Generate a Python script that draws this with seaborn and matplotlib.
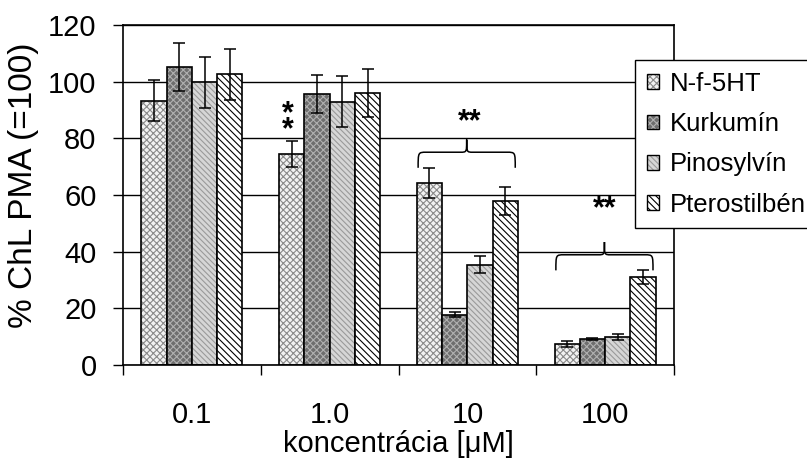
import numpy as np
import pandas as pd
import matplotlib
matplotlib.use("Agg")
import matplotlib.pyplot as plt
import matplotlib.colors as mcolors
from matplotlib.path import Path
from matplotlib.patches import PathPatch, Patch
import seaborn as sns

# ---------------- data ----------------
concentrations = ['0.1', '1.0', '10', '100']
compounds = ['N-f-5HT', 'Kurkumín', 'Pinosylvín', 'Pterostilbén']
nf5ht = [93.3, 74.4, 64.3, 7.4]
kurkumin = [105.3, 95.8, 17.8, 9.2]
pinosylvin = [99.8, 93.0, 35.4, 9.9]
pterostilben = [102.7, 96.0, 58.0, 31.0]
nf5ht_err = [7.2, 4.5, 5.3, 1.2]
kurkumin_err = [8.5, 6.7, 0.9, 0.4]
pinosylvin_err = [9.0, 9.0, 3.0, 1.0]
pterostilben_err = [9.0, 8.5, 5.0, 2.4]
yticks = [0, 20, 40, 60, 80, 100, 120]
xlabel = 'koncentrácia [μM]'
ylabel = '% ChL PMA (=100)'

values = [nf5ht, kurkumin, pinosylvin, pterostilben]
errors = [nf5ht_err, kurkumin_err, pinosylvin_err, pterostilben_err]

df = pd.DataFrame({
    'conc': np.tile(concentrations, len(compounds)),
    'compound': np.repeat(compounds, len(concentrations)),
    'value': np.concatenate(values),
})

# ---------------- style ----------------
sns.set_style('white')
plt.rcParams['font.family'] = ['Liberation Sans', 'DejaVu Sans']
plt.rcParams['hatch.linewidth'] = 0.8
plt.rcParams['axes.unicode_minus'] = False
plt.rcParams['text.color'] = 'black'
plt.rcParams['axes.labelcolor'] = 'black'
plt.rcParams['xtick.color'] = 'black'
plt.rcParams['ytick.color'] = 'black'

styles = [
    dict(face='#f2f2f2', hatch='xxxxx', hc='#8a8a8a'),
    dict(face='#6e6e6e', hatch='xxxxx', hc='#b0b0b0'),
    dict(face='#d6d6d6', hatch='\\\\\\\\\\\\', hc='#9a9a9a'),
    dict(face='#ffffff', hatch='\\\\\\\\\\', hc='#000000'),
]

W, H = 807, 462
fig = plt.figure(figsize=(W / 100, H / 100), dpi=100)
ax = fig.add_axes([123 / W, 97 / H, 551 / W, 340 / H])

sns.barplot(data=df, x='conc', y='value', hue='compound',
            order=concentrations, hue_order=compounds,
            width=0.735, errorbar=None, legend=False, saturation=1, ax=ax)

bar_containers = list(ax.containers)

for cont, st, errs in zip(bar_containers, styles, errors):
    xs, ys = [], []
    for p in cont.patches:
        p.set_facecolor(st['face'])
        p.set_edgecolor('black')
        p.set_linewidth(1.2)
        p.set_hatch(st['hatch'])
        p._hatch_color = mcolors.to_rgba(st['hc'])
        p.set_zorder(2)
        xs.append(p.get_x() + p.get_width() / 2)
        ys.append(p.get_height())
    ax.errorbar(xs, ys, yerr=errs, fmt='none', ecolor='black',
                elinewidth=1.1, capsize=4.5, capthick=1.1, zorder=3)

# axes
ax.set_xlim(-0.5, len(concentrations) - 0.5)
ax.set_ylim(0, 120)
ax.set_yticks(yticks)
ax.set_yticklabels([str(t) for t in yticks], fontsize=21, color='black')
ax.set_xticks(np.arange(-0.5, len(concentrations), 1.0))
ax.set_xticklabels([])
ax.set_xticks(np.arange(len(concentrations)), minor=True)
ax.set_xticklabels(concentrations, minor=True, fontsize=21, color='black')
ax.tick_params(axis='x', which='major', direction='out', length=7.5, width=1.0, color='black', bottom=True)
ax.tick_params(axis='x', which='minor', length=0, pad=26, bottom=True)
ax.tick_params(axis='y', direction='out', length=7.5, width=1.0, color='black', pad=11.5, left=True)
ax.yaxis.grid(True, color='black', linewidth=1.0)
ax.xaxis.grid(False)
ax.set_axisbelow(True)
for s in ax.spines.values():
    s.set_visible(True)
    s.set_color('black')
    s.set_linewidth(1.2)

ax.set_xlabel(xlabel, fontsize=21, color='black')
ax.xaxis.set_label_coords(0.5, (365 - 430) / 340)
ax.set_ylabel(ylabel, fontsize=24, color='black')
ax.yaxis.set_label_coords((39 - 123) / 551, (365 - 185) / 340)

# legend
handles = []
for st in styles:
    h = Patch(facecolor=st['face'], edgecolor='black', hatch=st['hatch'], linewidth=1.0)
    h._hatch_color = mcolors.to_rgba(st['hc'])
    handles.append(h)
leg = ax.legend(handles, compounds, loc='upper left',
                bbox_to_anchor=(635 / W, 1 - 60 / H), bbox_transform=fig.transFigure,
                frameon=True, fancybox=False, shadow=False, framealpha=1,
                edgecolor='black', fontsize=18.5, handlelength=0.5, handleheight=0.5,
                handletextpad=0.4, labelspacing=0.64, borderpad=0.45, borderaxespad=0)
leg.get_frame().set_linewidth(1.0)
leg.set_zorder(10)
for t in leg.get_texts():
    t.set_color('black')


# significance braces and asterisks
def brace(ax, x0, x1, y_base, h_mid, h_peak, r_end, r_mid):
    xc = (x0 + x1) / 2
    ym = y_base + h_mid
    yp = y_base + h_peak
    verts = [(x0, y_base), (x0, ym), (x0, ym), (x0 + r_end, ym),
             (xc - r_mid, ym),
             (xc, ym), (xc, ym), (xc, yp),
             (xc, ym), (xc, ym), (xc + r_mid, ym),
             (x1 - r_end, ym),
             (x1, ym), (x1, ym), (x1, y_base)]
    codes = [Path.MOVETO, Path.CURVE4, Path.CURVE4, Path.CURVE4,
             Path.LINETO,
             Path.CURVE4, Path.CURVE4, Path.CURVE4,
             Path.CURVE4, Path.CURVE4, Path.CURVE4,
             Path.LINETO,
             Path.CURVE4, Path.CURVE4, Path.CURVE4]
    ax.add_patch(PathPatch(Path(verts, codes), facecolor='none', edgecolor='black',
                           linewidth=1.1, zorder=4, clip_on=False))


for j in (2, 3):
    left = bar_containers[0].patches[j].get_x()
    rp = bar_containers[-1].patches[j]
    right = rp.get_x() + rp.get_width()
    top = max(v[j] + e[j] for v, e in zip(values, errors))
    brace(ax, left + 0.01, right - 0.02, top, 5.5, 10.0, 0.06, 0.045)

star_kw = dict(ha='center', va='baseline', fontsize=22, fontweight='bold', zorder=5, color='black')
ax.text(2.02, 83.0, '**', **star_kw)
ax.text(3.0, 52.3, '**', **star_kw)
ax.text(0.695, 80.2, '*\n*', linespacing=0.36, ha='center', va='baseline',
        fontsize=22, fontweight='bold', zorder=5, color='black')

fig.savefig('out.png', dpi=100)
